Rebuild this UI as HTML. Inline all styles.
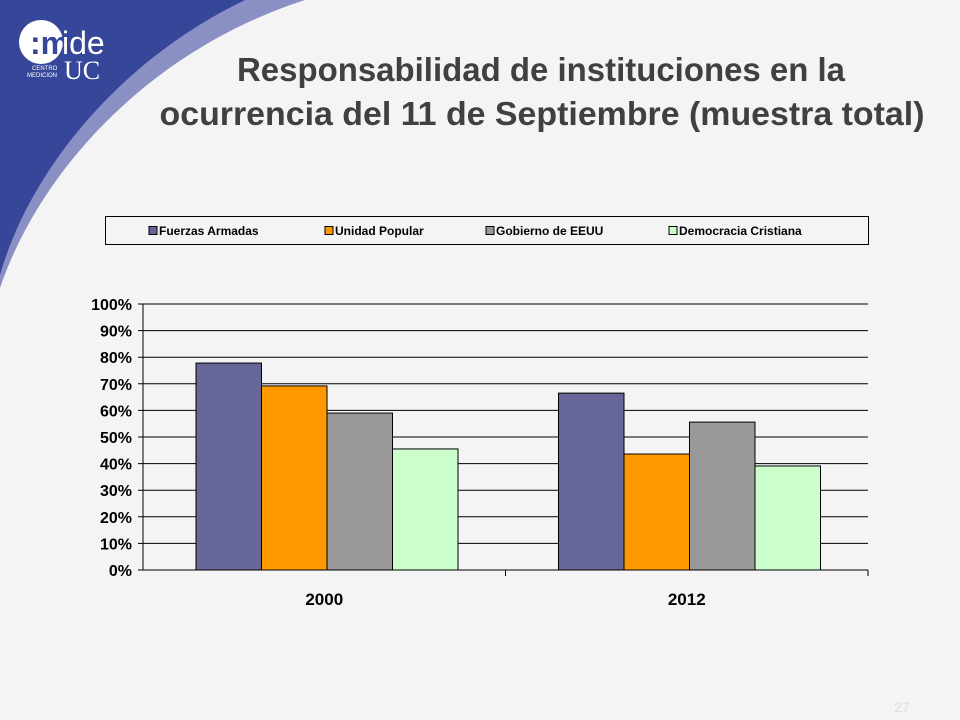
<!DOCTYPE html>
<html><head><meta charset="utf-8"><style>
body{margin:0;width:960px;height:720px;background:#f4f4f4;overflow:hidden;font-family:"Liberation Sans",sans-serif;position:relative}
svg{position:absolute;left:0;top:0}
</style></head><body>
<svg width="960" height="720">
<path d="M0,0 L305,0 C150,50 40,170 0,288 Z" fill="#8a8fc4"/>
<path d="M0,0 L245,0 C120,60 30,170 0,275 Z" fill="#36479a"/>
<g>
<circle cx="41" cy="42" r="22" fill="#fff"/>
<text x="30" y="54" font-size="32" fill="#36479a" font-weight="bold">:m</text>
<text x="62" y="54" font-size="32" fill="#fff">ide</text>
<text x="64" y="79" font-size="26" fill="#fff" font-family="Liberation Serif">UC</text>
<text x="32" y="70" font-size="6" fill="#fff">CENTRO</text>
<text x="27" y="77" font-size="6" fill="#fff">MEDICION</text>
</g>
<text x="541" y="81" font-size="33" font-weight="bold" fill="#404040" text-anchor="middle" textLength="608" lengthAdjust="spacingAndGlyphs">Responsabilidad de instituciones en la</text>
<text x="542" y="125" font-size="33" font-weight="bold" fill="#404040" text-anchor="middle" textLength="765" lengthAdjust="spacingAndGlyphs">ocurrencia del 11 de Septiembre (muestra total)</text>
<g id="legend"></g>
<g id="chart"></g>
<text x="902" y="712" font-size="14" fill="#ddd" text-anchor="middle">27</text>
</svg>
<script>
const categories=["2000","2012"];
const seriesNames=["Fuerzas Armadas","Unidad Popular","Gobierno de EEUU","Democracia Cristiana"];
const fuerzasArmadas=[77.8,66.5];
const unidadPopular=[69.2,43.6];
const gobiernoEEUU=[59,55.6];
const democraciaCristiana=[45.5,39.1];
const yTicks=[0,10,20,30,40,50,60,70,80,90,100];
const colors=["#666699","#ff9900","#999999","#ccffcc"];
const NS="http://www.w3.org/2000/svg";
const g=document.getElementById('chart'),lg=document.getElementById('legend');
function mk(p,t,a,txt){const e=document.createElementNS(NS,t);for(const k in a)e.setAttribute(k,a[k]);if(txt!=null)e.textContent=txt;p.appendChild(e);return e;}
const x0=143,x1=868,y0=570,y1=304;
const Y=v=>y0-(v/100)*(y0-y1);
const catW=(x1-x0)/categories.length,barW=65.5,gOff=53;
yTicks.forEach(t=>{
 const l=mk(g,'line',{x1:x0-5,x2:x1,y1:Y(t),y2:Y(t),stroke:'#000','stroke-width':1});
 
 
 const tx=mk(g,'text',{x:x0-11,y:Y(t)+6,'font-size':16,'font-weight':'bold','text-anchor':'end'},t+'%');
 
 
});
const ax=mk(g,'line',{x1:x0,x2:x0,y1:y1,y2:y0,stroke:'#000'});


const series=[fuerzasArmadas,unidadPopular,gobiernoEEUU,democraciaCristiana];
categories.forEach((c,i)=>{
 series.forEach((s,j)=>{
  const bx=x0+i*catW+gOff+j*barW;
  const r=mk(g,'rect',{x:bx,y:Y(s[i]),width:barW,height:y0-Y(s[i]),fill:colors[j],stroke:'#000','stroke-width':1});
  
  
 });
 const tk=mk(g,'line',{x1:x0+(i+1)*catW,x2:x0+(i+1)*catW,y1:y0,y2:y0+6,stroke:'#000'});
 
 
 const t=mk(g,'text',{x:x0+(i+0.5)*catW,y:605,'font-size':17,'font-weight':'bold','text-anchor':'middle'},c);
 
 
});
const lb=mk(lg,'rect',{x:105.5,y:216.5,width:763,height:28,fill:'#f4f4f4',stroke:'#000'});


const lx=[149,325,486,669];
seriesNames.forEach((n,j)=>{
 const sq=mk(lg,'rect',{x:lx[j],y:226.5,width:8,height:8,fill:colors[j],stroke:'#000'});
 
 
 const t=mk(lg,'text',{x:lx[j]+10,y:235,'font-size':12,'font-weight':'bold'},n);
 
 
});
</script>
</body></html>
